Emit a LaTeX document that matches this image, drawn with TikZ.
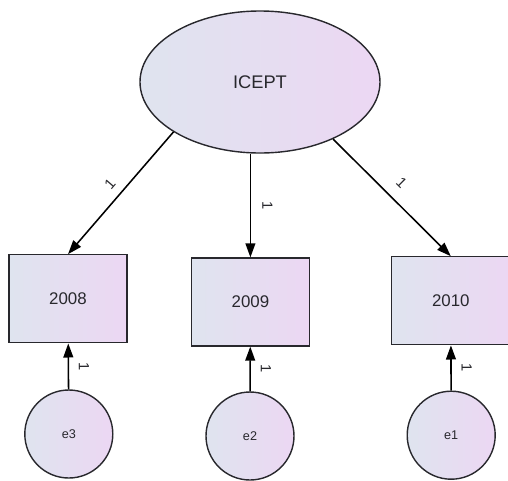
\documentclass[tikz,border=0pt]{standalone}
\usepackage{fontspec}
\setmainfont{Liberation Sans}
\usetikzlibrary{arrows.meta,shapes.geometric}
\definecolor{fillL}{RGB}{223,228,239}
\definecolor{fillR}{RGB}{236,215,243}
\definecolor{ink}{RGB}{40,40,45}

\begin{document}
\begin{tikzpicture}[>={Triangle[length=10pt,width=7pt]},
    latent/.style={ellipse, draw=ink, line width=1pt, left color=fillL, right color=fillR,
      minimum width=6cm, minimum height=3.55cm, text=ink, font=\fontsize{13}{15}\selectfont},
    obs/.style={rectangle, draw=ink, line width=0.9pt, left color=fillL, right color=fillR,
      minimum width=2.95cm, minimum height=2.2cm, text=ink, font=\fontsize{12}{14}\selectfont},
    err/.style={circle, draw=ink, line width=1pt, left color=fillL, right color=fillR,
      minimum size=2.2cm, inner sep=0pt, text=ink, font=\fontsize{9}{11}\selectfont},
    wt/.style={sloped, font=\fontsize{10.5}{11}\selectfont, text=ink, inner sep=1pt},
    path/.style={line width=1.1pt}]
  \useasboundingbox (0,0) rectangle (12.7,-12);
  \node[latent] (icept) at (6.5,-2.05)   {ICEPT};
  \node[obs] (y2008) at (1.7,-7.47)      {2008};
  \node[obs] (y2009) at (6.26,-7.55)     {2009};
  \node[obs] (y2010) at (11.27,-7.52)    {2010};
  \node[err] (e3) at (1.72,-10.85)       {e3};
  \node[err] (e2) at (6.25,-10.9)        {e2};
  \node[err] (e1) at (11.28,-10.88)      {e1};
  % loadings
  \draw[->, path] (icept.210) -- node[wt, pos=0.5, above=5pt] {1} (y2008.north);
  \draw[->, path] (y2009.north |- icept.south) -- node[wt, allow upside down, pos=0.5, above=7pt] {1} (y2009.north);
  \draw[->, path] (icept.-38) -- node[wt, pos=0.48, above=7pt] {1} (y2010.north);
  % errors
  \draw[<-, path] (y2008) -- node[wt, allow upside down, pos=0.5, above=6pt] {1} (e3);
  \draw[<-, path] (y2009) -- node[wt, allow upside down, pos=0.5, above=6pt] {1} (e2);
  \draw[<-, path] (y2010) -- node[wt, allow upside down, pos=0.5, above=6pt] {1} (e1);
\end{tikzpicture}
\end{document}
